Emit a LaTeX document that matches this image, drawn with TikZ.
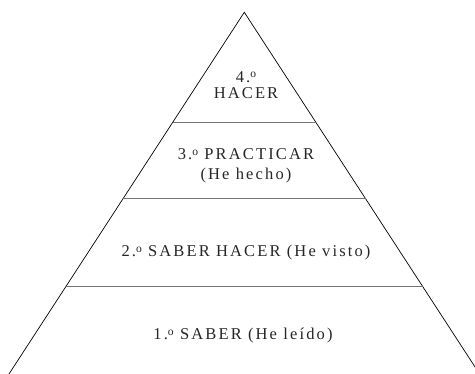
\documentclass[tikz,border=0pt]{standalone}
\usepackage{fontspec}
\setmainfont{Liberation Serif}
\usepackage{tikz}
\usetikzlibrary{calc}

\newcommand{\ordo}{\raisebox{0.55ex}{\scalebox{0.7}{o}}}

\begin{document}
\begin{tikzpicture}[
    x=1pt, y=1pt,
    side/.style={draw=black, line width=0.7pt},
    tier/.style={draw=black!55, line width=1.1pt},
    tiertext/.style={align=center, text=black!85, inner sep=0pt, font=\fontsize{16.5}{16.5}\selectfont\addfontfeatures{LetterSpace=13}}
]
\useasboundingbox (0,0) rectangle (475,374);
\clip (0,0) rectangle (475,374);

% Pyramid corners
\coordinate (apex) at (244.3,361.7);
\coordinate (bl) at (9,0);
\coordinate (br) at (479.6,0);

% Sides
\draw[side] (bl) -- (apex) -- (br);

% Tier lines
\draw[tier] ($(apex)!0.305!(bl)$) -- ($(apex)!0.305!(br)$);
\draw[tier] ($(apex)!0.516!(bl)$) -- ($(apex)!0.516!(br)$);
\draw[tier] ($(apex)!0.759!(bl)$) -- ($(apex)!0.759!(br)$);

% Labels
\node[tiertext] (hacer) at (246,289) {4.\ordo \\ HACER};
\node[tiertext] (practicar) at (246,208) {3.\ordo{} PRACTICAR \\[3pt] (He hecho)};
\node[tiertext] (saberhacer) at (246,121) {2.\ordo{} SABER HACER (He visto)};
\node[tiertext] (saber) at (243,38) {1.\ordo{} SABER (He leído)};
\end{tikzpicture}
\end{document}
